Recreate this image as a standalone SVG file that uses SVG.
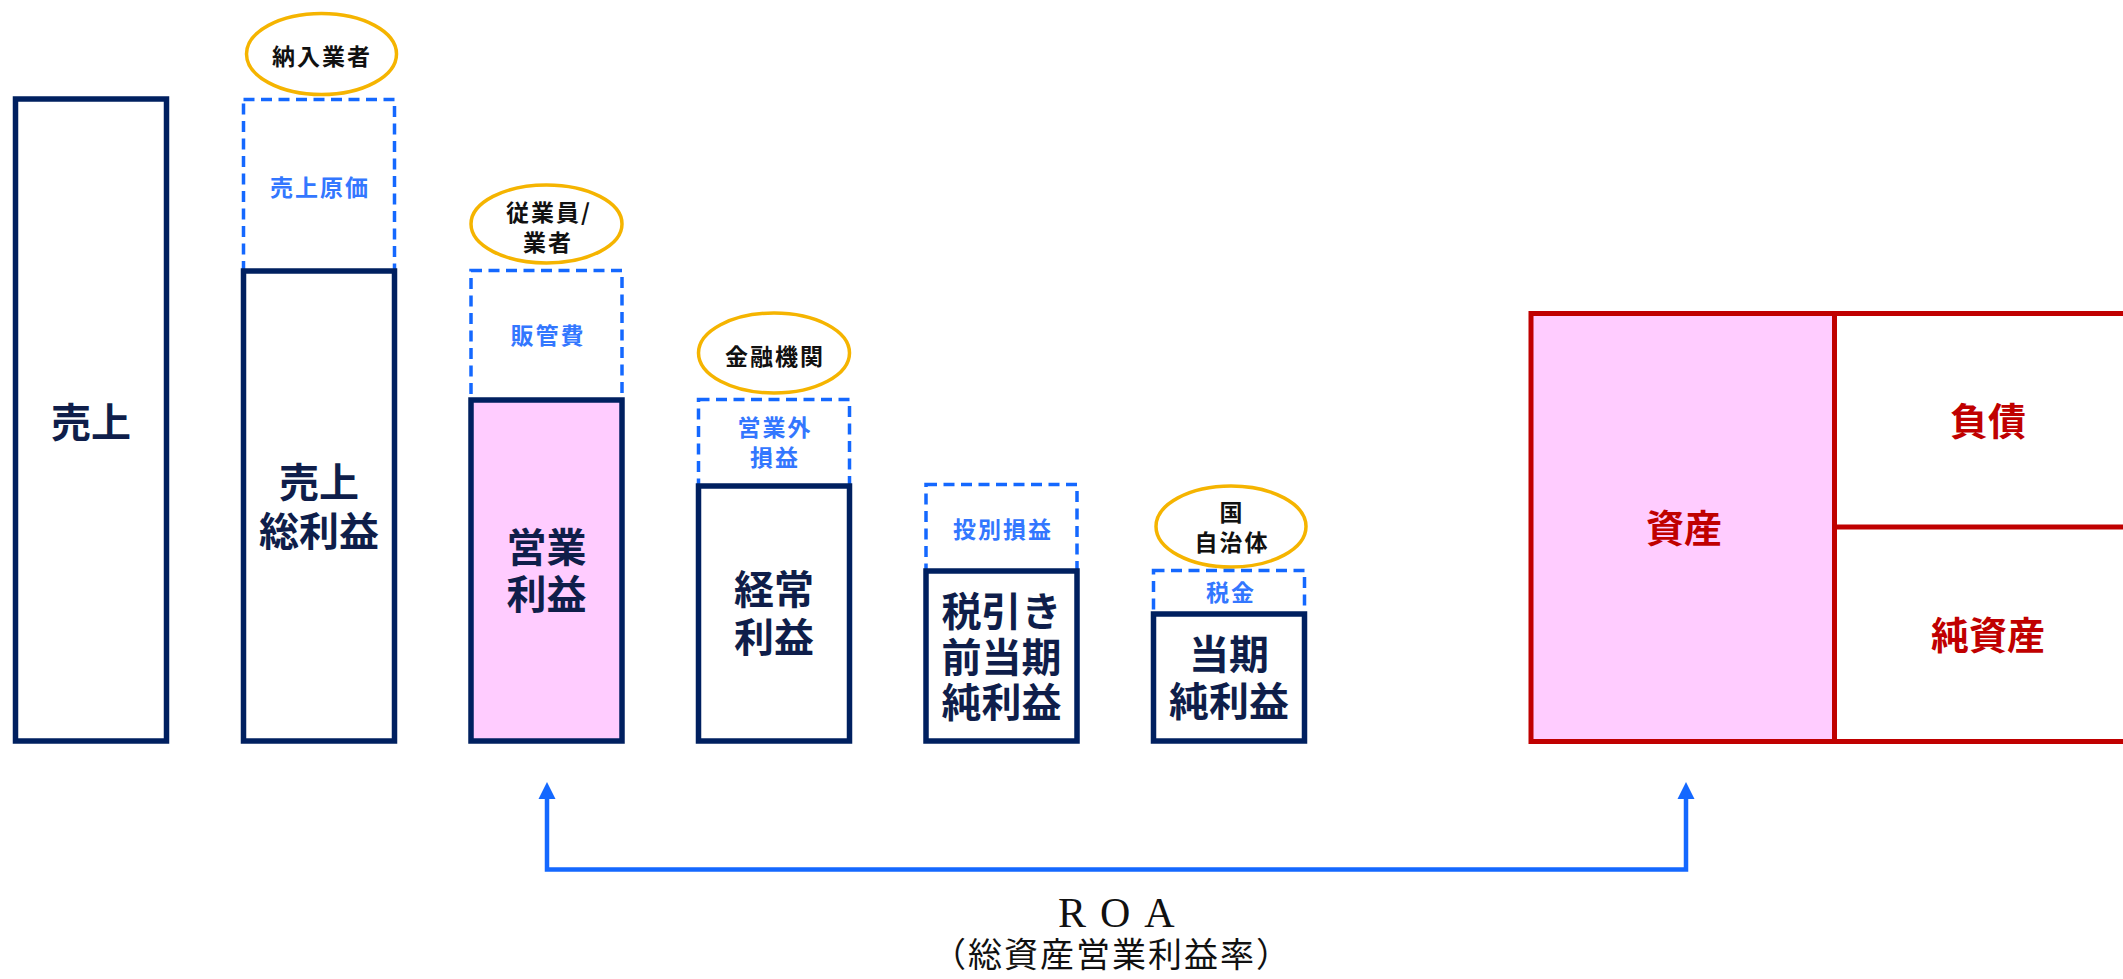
<svg xmlns="http://www.w3.org/2000/svg" width="2123" height="979" viewBox="0 0 2123 979">
<style>
.solid{fill:#fff;stroke:#002060;stroke-width:5.5}
.pink{fill:#FFCCFF}
.dash{fill:none;stroke:#1468FF;stroke-width:3.5;stroke-dasharray:11 6.5}
.ell{fill:#fff;stroke:#F5B400;stroke-width:3.5}
.red{fill:none;stroke:#C00000;stroke-width:5}
.tb{font-family:"Noto Sans CJK JP","Noto Sans CJK SC",sans-serif;font-weight:bold;font-size:40px;fill:#0F1E4A;text-anchor:middle}
.tl{font-family:"Noto Sans CJK JP","Noto Sans CJK SC",sans-serif;font-weight:bold;font-size:23px;fill:#3377FF;text-anchor:middle;letter-spacing:2px}
.te{font-family:"Noto Sans CJK JP","Noto Sans CJK SC",sans-serif;font-weight:bold;font-size:23px;fill:#111;text-anchor:middle;letter-spacing:2px}
.tr{font-family:"Noto Sans CJK JP","Noto Sans CJK SC",sans-serif;font-weight:bold;font-size:38px;fill:#C00000;text-anchor:middle}
</style>
<defs>
<marker id="ah" viewBox="0 0 10 10" refX="0" refY="5" markerUnits="userSpaceOnUse" markerWidth="17" markerHeight="18" orient="auto-start-reverse">
<path d="M0,0 L10,5 L0,10 z" fill="#1468FF"/>
</marker>
</defs>
<rect width="2123" height="979" fill="#fff"/>

<g id="uriage">
<rect class="solid" x="15.5" y="99" width="151" height="642"/>
<text class="tb" x="91" y="437">売上</text>
</g>

<g id="uriage-genka">
<ellipse class="ell" cx="321.5" cy="54" rx="75" ry="40.5"/>
<text class="te" x="322" y="65">納入業者</text>
<rect class="dash" x="243.5" y="99.5" width="151" height="171.5"/>
<text class="tl" x="320" y="196">売上原価</text>
</g>
<g id="uriage-sorieki">
<rect class="solid" x="243.5" y="271" width="151" height="470"/>
<text class="tb" x="319" y="497">売上</text>
<text class="tb" x="319" y="546">総利益</text>
</g>

<g id="hankanhi">
<ellipse class="ell" cx="546.5" cy="224" rx="75.5" ry="39"/>
<text class="te" x="549" y="221">従業員/</text>
<text class="te" x="548" y="251">業者</text>
<rect class="dash" x="471" y="270.5" width="151" height="129.5"/>
<text class="tl" x="548" y="344">販管費</text>
</g>
<g id="eigyo-rieki">
<rect class="solid pink" x="471" y="400" width="151" height="341" style="fill:#FFCCFF"/>
<text class="tb" x="546.5" y="562">営業</text>
<text class="tb" x="546.5" y="609">利益</text>
</g>

<g id="eigyogai">
<ellipse class="ell" cx="774" cy="353" rx="75.5" ry="40"/>
<text class="te" x="775" y="365">金融機関</text>
<rect class="dash" x="698.5" y="399.5" width="151" height="86.5"/>
<text class="tl" x="775" y="436">営業外</text>
<text class="tl" x="775" y="466">損益</text>
</g>
<g id="keijo-rieki">
<rect class="solid" x="698.5" y="486" width="151" height="255"/>
<text class="tb" x="774" y="604">経常</text>
<text class="tb" x="774" y="652">利益</text>
</g>

<g id="tokubetsu">
<rect class="dash" x="926" y="484.5" width="151" height="86.5"/>
<text class="tl" x="1003" y="538">投別損益</text>
</g>
<g id="zeibikimae">
<rect class="solid" x="926" y="571" width="151" height="170"/>
<text class="tb" x="1001.5" y="626">税引き</text>
<text class="tb" x="1001.5" y="672">前当期</text>
<text class="tb" x="1001.5" y="717">純利益</text>
</g>

<g id="zeikin">
<ellipse class="ell" cx="1231" cy="526.5" rx="75" ry="40.5"/>
<text class="te" x="1232" y="521">国</text>
<text class="te" x="1232" y="551">自治体</text>
<rect class="dash" x="1153.5" y="570.5" width="151" height="43.5"/>
<text class="tl" x="1231" y="601">税金</text>
</g>
<g id="toki-junrieki">
<rect class="solid" x="1153.5" y="614" width="151" height="127"/>
<text class="tb" x="1229" y="669">当期</text>
<text class="tb" x="1229" y="716">純利益</text>
</g>

<g id="bs">
<rect x="1531" y="313.5" width="303.5" height="428" fill="#FFCCFF"/>
<rect class="red" x="1531" y="313.5" width="620" height="428"/>
<line class="red" x1="1834.5" y1="313.5" x2="1834.5" y2="741.5"/>
<line class="red" x1="1834.5" y1="527" x2="2130" y2="527"/>
<text class="tr" x="1684" y="542">資産</text>
<text class="tr" x="1988" y="435">負債</text>
<text class="tr" x="1988" y="649">純資産</text>
</g>

<g id="connectors">
<path d="M547,799 V869.5 H1686 V799" fill="none" stroke="#1468FF" stroke-width="4.5" marker-start="url(#ah)" marker-end="url(#ah)"/>
</g>

<g id="roa-label">
<text x="1058" y="927" font-family="Liberation Serif, serif" font-size="42" fill="#111" letter-spacing="14">ROA</text>
<text x="1112" y="967" font-family="Noto Sans CJK JP, Noto Sans CJK SC, sans-serif" font-size="34" fill="#111" text-anchor="middle" letter-spacing="2">（総資産営業利益率）</text>
</g>
</svg>
